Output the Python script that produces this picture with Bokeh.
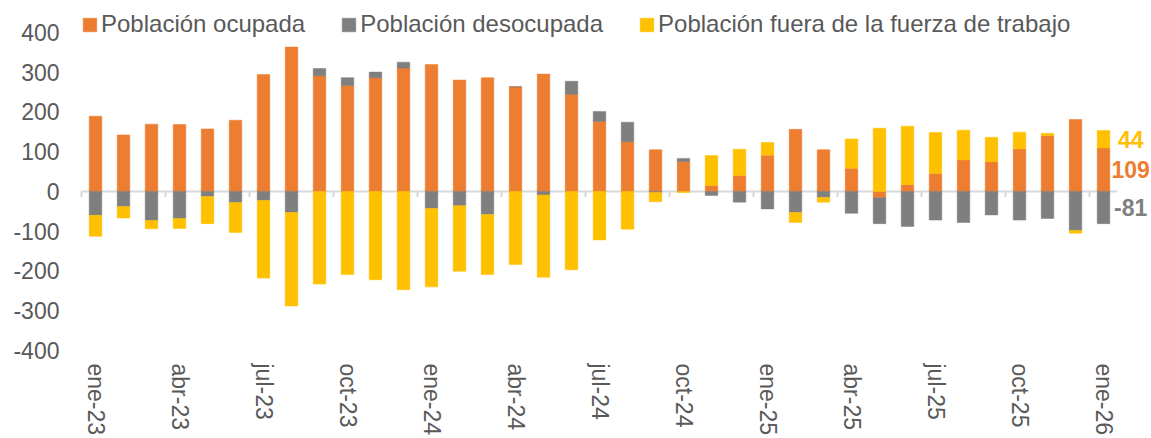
from bokeh.plotting import figure
from bokeh.models import Range1d, FixedTicker, Legend, LegendItem, ColumnDataSource
from bokeh.core.properties import value
from bokeh.embed import file_html
from bokeh.resources import INLINE

meses = ["ene-23", "feb-23", "mar-23", "abr-23", "may-23", "jun-23",
         "jul-23", "ago-23", "sep-23", "oct-23", "nov-23", "dic-23",
         "ene-24", "feb-24", "mar-24", "abr-24", "may-24", "jun-24",
         "jul-24", "ago-24", "sep-24", "oct-24", "nov-24", "dic-24",
         "ene-25", "feb-25", "mar-25", "abr-25", "may-25", "jun-25",
         "jul-25", "ago-25", "sep-25", "oct-25", "nov-25", "dic-25",
         "ene-26"]
ocupada = [189, 142, 169, 168, 157, 179, 294, 363, 291, 266, 286, 310,
           319, 280, 286, 263, 295, 244, 176, 125, 105, 75, 15, 40,
           91, 156, 105, 58, -16, 17, 45, 79, 75, 107, 140, 181, 109]
desocupada = [-60, -38, -73, -68, -13, -28, -23, -53, 18, 20, 14, 15,
              -43, -36, -58, 0, -9, 33, 25, 49, -3, 8, -10, -27,
              -44, -53, -15, -55, -65, -88, -72, -78, -59, -72, -68, -98, -81]
fuera = [-53, -29, -21, -25, -68, -75, -195, -235, -233, -209, -222, -247,
         -197, -165, -151, -184, -207, -197, -122, -95, -23, -3, 75, 66,
         32, -25, -12, 74, 159, 147, 103, 75, 61, 42, 6, -7, 44]
nombres = ["Población ocupada", "Población desocupada", "Población fuera de la fuerza de trabajo"]
colores = ["#ED7D31", "#7F7F7F", "#FFC000"]
y_ticks = [-400, -300, -200, -100, 0, 100, 200, 300, 400]

n = len(meses)
xs = list(range(n))
series = [ocupada, desocupada, fuera]

# stacking (positive and negative separately)
pos = [0.0] * n
neg = [0.0] * n
stacks = []
for s in series:
    bot, top = [], []
    for i, v in enumerate(s):
        if v >= 0:
            bot.append(pos[i]); top.append(pos[i] + v); pos[i] += v
        else:
            top.append(neg[i]); bot.append(neg[i] + v); neg[i] += v
    stacks.append((bot, top))

FONT = "Liberation Sans"
TXT = "#595959"

p = figure(width=1151, height=438, output_backend="svg", toolbar_location=None,
           x_range=Range1d(-1.2143, 37.714), y_range=Range1d(-402.5, 480),
           min_border_left=61, min_border_right=0, min_border_top=0, min_border_bottom=85)
p.outline_line_color = None
p.xgrid.visible = False
p.ygrid.visible = False
p.background_fill_color = "white"
p.border_fill_color = "white"

# zero line and category tick marks
p.segment(x0=[-0.5], y0=[0], x1=[n - 0.5], y1=[0], line_color="#D9D9D9", line_width=2)
tk = [i - 0.5 for i in range(0, n, 3)]
p.segment(x0=tk, y0=[0] * len(tk), x1=tk, y1=[-14] * len(tk), line_color="#D9D9D9", line_width=2)

renderers = []
for (bot, top), c in zip(stacks, colores):
    src = ColumnDataSource(dict(x=xs, bottom=bot, top=top))
    r = p.vbar(x="x", bottom="bottom", top="top", width=0.45, source=src,
               fill_color=c, line_color=c, line_width=0.5)
    renderers.append(r)

# data labels for the last month
last = n - 1
lab_vals = [ocupada[last], desocupada[last], fuera[last]]
lab_y = [(stacks[k][0][last] + stacks[k][1][last]) / 2 for k in range(3)]
lsrc = ColumnDataSource(dict(x=[last + 0.97] * 3, y=lab_y, t=[str(v) for v in lab_vals], c=colores))
p.text(x="x", y="y", text="t", text_color="c", source=lsrc, text_font=value(FONT),
       text_font_size="23px", text_font_style="bold", text_baseline="middle", text_align="center")

# axes
p.yaxis.ticker = FixedTicker(ticks=y_ticks)
p.yaxis.major_label_overrides = {v: str(v) for v in y_ticks}
p.yaxis.axis_line_color = None
p.yaxis.major_tick_line_color = None
p.yaxis.minor_tick_line_color = None
p.yaxis.major_label_text_font = FONT
p.yaxis.major_label_text_font_size = "23px"
p.yaxis.major_label_text_color = TXT
p.yaxis.major_label_standoff = -4

xt = list(range(0, n, 3))
p.xaxis.ticker = FixedTicker(ticks=xt)
p.xaxis.major_label_overrides = {i: meses[i] for i in xt}
p.xaxis.axis_line_color = None
p.xaxis.major_tick_line_color = None
p.xaxis.minor_tick_line_color = None
p.xaxis.major_label_orientation = "vertical"
p.xaxis.major_label_text_font = FONT
p.xaxis.major_label_text_font_size = "23px"
p.xaxis.major_label_text_color = TXT
p.xaxis.major_label_standoff = 6

legend = Legend(items=[LegendItem(label=nm, renderers=[r]) for nm, r in zip(nombres, renderers)],
                orientation="horizontal", location=(20, 313),
                glyph_width=17, glyph_height=17, label_standoff=3, spacing=35,
                padding=0, margin=0, border_line_color=None, background_fill_alpha=0,
                label_text_font=FONT, label_text_font_size="24px", label_text_color=TXT)
p.add_layout(legend)

open("out.html", "w").write(file_html(p, INLINE))
